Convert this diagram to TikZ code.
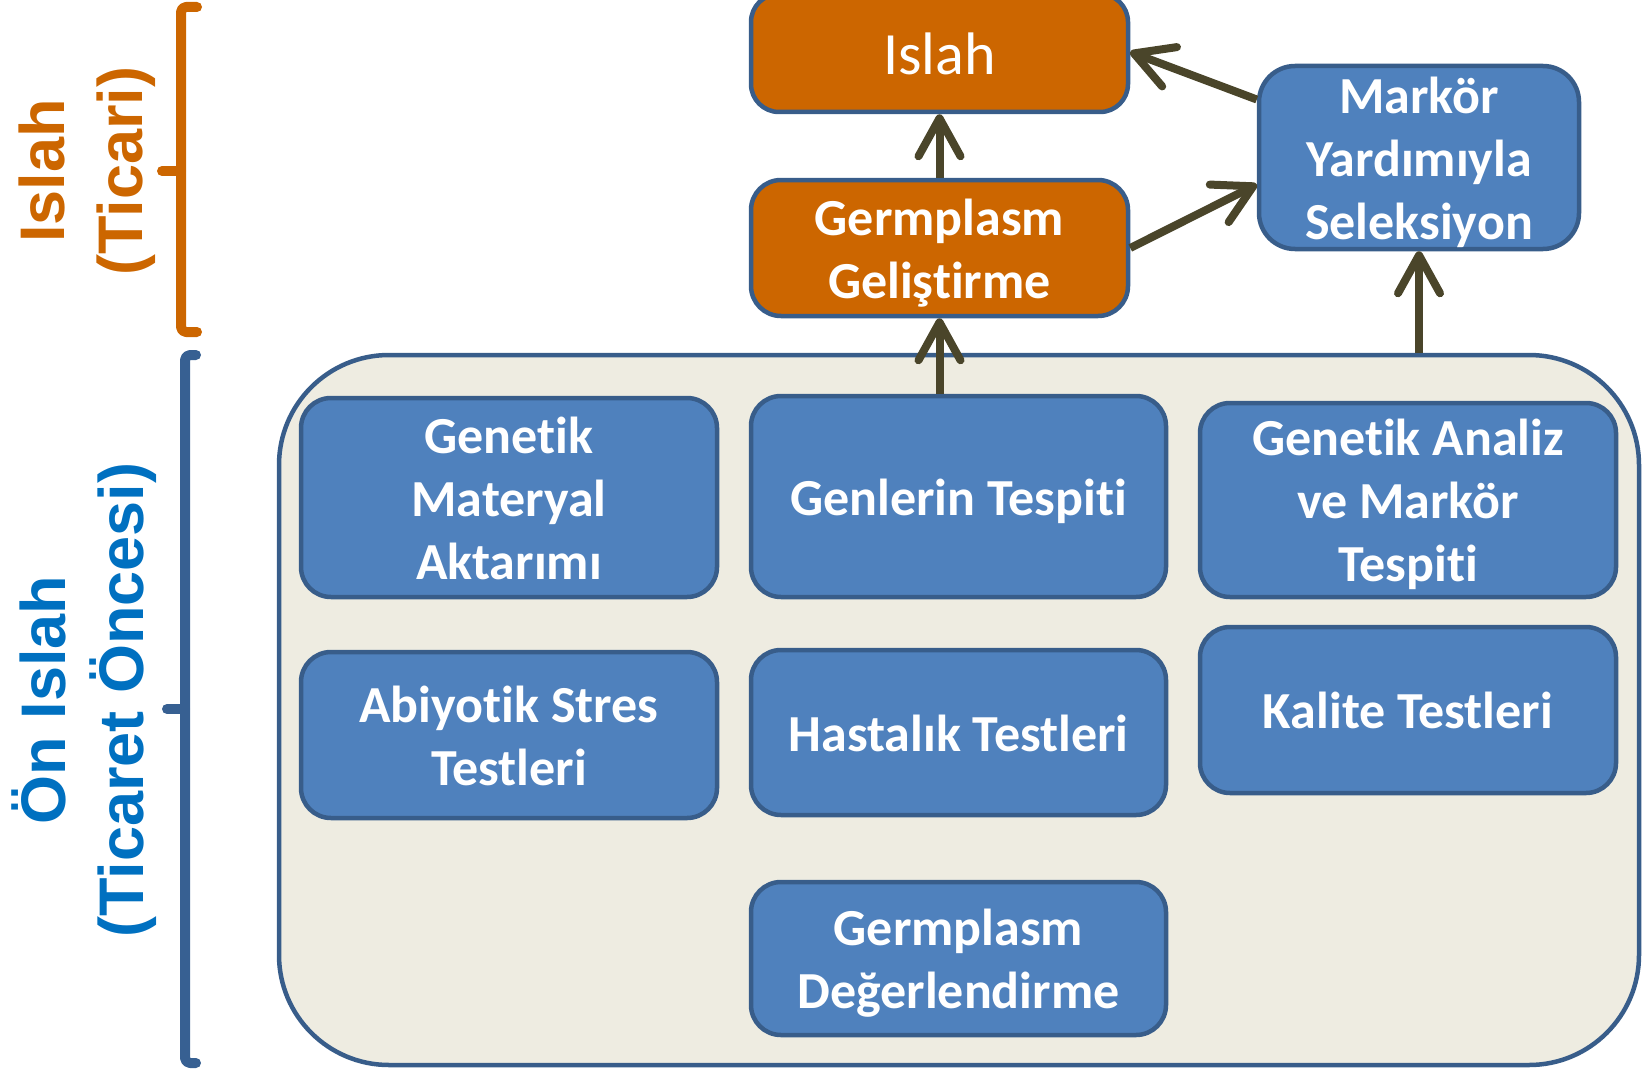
\documentclass[tikz,border=0pt]{standalone}
\usepackage{fontspec}
\setmainfont{Carlito}[Ligatures={NoCommon,NoContextual}, RawFeature={-liga;-clig;-dlig}]
\newfontfamily\arialfont{Liberation Sans}
\usetikzlibrary{arrows.meta}
\definecolor{boxblue}{HTML}{4F81BD}
\definecolor{boxedge}{HTML}{385D8A}
\definecolor{orng}{HTML}{CC6600}
\definecolor{panel}{HTML}{EEECE1}
\definecolor{arrowc}{HTML}{4A452A}
\definecolor{lblblue}{HTML}{0070C0}
\definecolor{brkblue}{HTML}{376092}
\newcommand\hs{\rule{0pt}{51pt}}
\newcommand\ds{\rule[-14pt]{0pt}{14pt}}
\begin{document}
\begin{tikzpicture}[x=1pt,y=-1pt,
  box/.style={draw=boxedge, line width=4.5pt, rounded corners=30pt, fill=boxblue, text=white,
    align=center, font=\fontsize{52}{63}\selectfont\bfseries, inner sep=0pt},
  obox/.style={box, fill=orng},
  conn/.style={draw=arrowc, line width=8pt, -{Straight Barb[length=38pt,width=42pt,round]}},
  sidelbl/.style={rotate=90, align=center, inner sep=0pt, font=\arialfont\bfseries\fontsize{63}{78}\selectfont},
  brk/.style={line width=10pt, line cap=round, line join=round, rounded corners=5pt}
]
\useasboundingbox (0,0) rectangle (1643,1070);
% container
\node[draw=boxedge, line width=4.5pt, fill=panel, rounded corners=110pt, minimum width=1360pt, minimum height=710pt, inner sep=0pt] (container) at (959,710) {};
% top boxes
\node[obox, rounded corners=28pt, minimum width=377pt, minimum height=118pt, font=\fontsize{60}{72}\selectfont] (islah) at (939.5,53) {\rule[-11pt]{0pt}{65pt}Islah};
\node[obox, minimum width=377pt, minimum height=136pt] (germ) at (939.5,248) {\hs Germplasm\\Geliştirme\ds};
\node[box, rounded corners=36pt, minimum width=320pt, minimum height=183pt] (markor) at (1419,157.5) {\rule{0pt}{47pt}Markör\\Yardımıyla\\\smash{Seleksiyon}\rule[-10pt]{0pt}{10pt}};
% inner boxes
\node[box, minimum width=416pt, minimum height=199pt] (gma) at (509,497.5) {\hs Genetik\\Materyal\\Aktarımı\ds};
\node[box, minimum width=415pt, minimum height=201pt] (gt) at (958.5,496.5) {\hs Genlerin Tespiti\ds};
\node[box, minimum width=416pt, minimum height=194pt] (gamt) at (1408,500) {\hs Genetik Analiz\\ve Markör\\Tespiti\ds};
\node[box, minimum width=416pt, minimum height=166pt] (ast) at (509,735) {\hs Abiyotik Stres\\Testleri\ds};
\node[box, minimum width=415pt, minimum height=165pt] (ht) at (958.5,732.5) {\hs Hastalık Testleri\ds};
\node[box, minimum width=416pt, minimum height=166pt] (kt) at (1408,710) {\hs Kalite Testleri\ds};
\node[box, minimum width=415pt, minimum height=153pt] (gd) at (958.5,958.5) {\hs Germplasm\\Değerlendirme\ds};
% connectors
\draw[conn] (gt.north -| germ.south) -- (germ.south);
\draw[conn] (germ.north) -- (islah.south);
\draw[conn] (germ.east) -- ([yshift=-27pt]markor.west);
\draw[conn] ([yshift=58pt]markor.west) -- ([yshift=1pt]islah.east);
\draw[conn] (container.north -| markor.south) -- (markor.south);
% brackets
\draw[brk, orng] (197,7) -- (181,7) -- (181,332) -- (197,332);
\draw[brk, orng] (181,171) -- (162,171);
\draw[brk, brkblue] (196,355) -- (185,355) -- (185,1063) -- (196,1063);
\draw[brk, brkblue] (185,709) -- (167,709);
% side labels
\node[sidelbl, text=orng] (lblislah) at (87,171) {Islah\\(Ticari)};
\node[sidelbl, text=lblblue] (lblon) at (84,700) {Ön Islah\\(Ticaret Öncesi)};
\end{tikzpicture}
\end{document}
